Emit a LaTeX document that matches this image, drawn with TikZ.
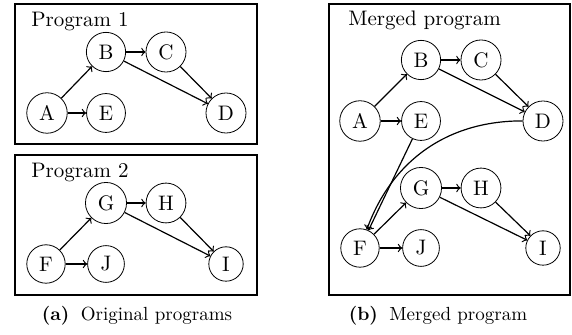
\documentclass[tikz,border=0pt]{standalone}
\usetikzlibrary{positioning}
\tikzset{
    %Define style for program frames
    prog/.style={
           draw=black,
           line width=0.8pt},
    %Define style for frame titles
    title/.style={
           anchor=base west,
           inner sep=0pt},
    %Define style for blocks
    blk/.style={
           circle,
           draw=black,
           thin,
           inner sep=3.3pt},
    % Define arrow style
    flow/.style={
           ->,
           semithick}
}

\begin{document}
\begin{tikzpicture}[x=0.5pt, y=-0.5pt, node distance=30pt, on grid, font=\fontsize{10.5}{12}\selectfont]
 \useasboundingbox (0,0) rectangle (572,335);
 %frames
    \draw[prog] (15,4) rectangle (257,144);
    \draw[prog] (15,155) rectangle (257,295);
    \draw[prog] (329,4) rectangle (570,295);
    \node[title] (p1) at (31,27) {Program 1};
    \node[title] (p2) at (31,178) {Program 2};
    \node[title] (pm) at (348,26) {Merged program};
 %program 1
    \node[blk] (a1) at (47,113) {A};
    \node[blk, above right=30.5pt and 29.5pt of a1] (b1) {B};
    \node[blk, right=30pt of b1] (c1) {C};
    \node[blk, below right=30.5pt and 30pt of c1] (d1) {D};
    \node[blk, right=29.5pt of a1] (e1) {E};
    \draw[flow] (a1) to (b1);
    \draw[flow] (a1) to (e1);
    \draw[flow] (b1) to (c1);
    \draw[flow] (b1) to (d1);
    \draw[flow] (c1) to (d1);
 %program 2
    \node[blk] (f2) at (46,264) {F};
    \node[blk, above right=30.5pt and 30pt of f2] (g2) {G};
    \node[blk, right=30pt of g2] (h2) {H};
    \node[blk, below right=30.5pt and 30pt of h2] (i2) {I};
    \node[blk, right=30pt of f2] (j2) {J};
    \draw[flow] (f2) to (g2);
    \draw[flow] (f2) to (j2);
    \draw[flow] (g2) to (h2);
    \draw[flow] (g2) to (i2);
    \draw[flow] (h2) to (i2);
 %merged program
    \node[blk] (am) at (360,121) {A};
    \node[blk, above right=30.5pt and 30.5pt of am] (bm) {B};
    \node[blk, right=30pt of bm] (cm) {C};
    \node[blk, below right=30.5pt and 31pt of cm] (dm) {D};
    \node[blk, right=30.5pt of am] (em) {E};
    \node[blk, below=63.5pt of am] (fm) {F};
    \node[blk, above right=30pt and 30.5pt of fm] (gm) {G};
    \node[blk, right=30pt of gm] (hm) {H};
    \node[blk, below right=30pt and 31pt of hm] (im) {I};
    \node[blk, right=30.5pt of fm] (jm) {J};
    \draw[flow] (am) to (bm);
    \draw[flow] (am) to (em);
    \draw[flow] (bm) to (cm);
    \draw[flow] (bm) to (dm);
    \draw[flow] (cm) to (dm);
    \draw[flow] (dm) to[bend right=35] (fm);
    \draw[flow] (em) to (fm);
    \draw[flow] (fm) to (gm);
    \draw[flow] (fm) to (jm);
    \draw[flow] (gm) to (hm);
    \draw[flow] (gm) to (im);
    \draw[flow] (hm) to (im);
 %captions
    \node[font=\fontsize{9.5}{11}\selectfont] (capa) at (137,316) {\textbf{(a)}\hspace{0.6em}Original programs};
    \node[font=\fontsize{9.5}{11}\selectfont] (capb) at (438,316) {\textbf{(b)}\hspace{0.6em}Merged program};
\end{tikzpicture}
\end{document}
